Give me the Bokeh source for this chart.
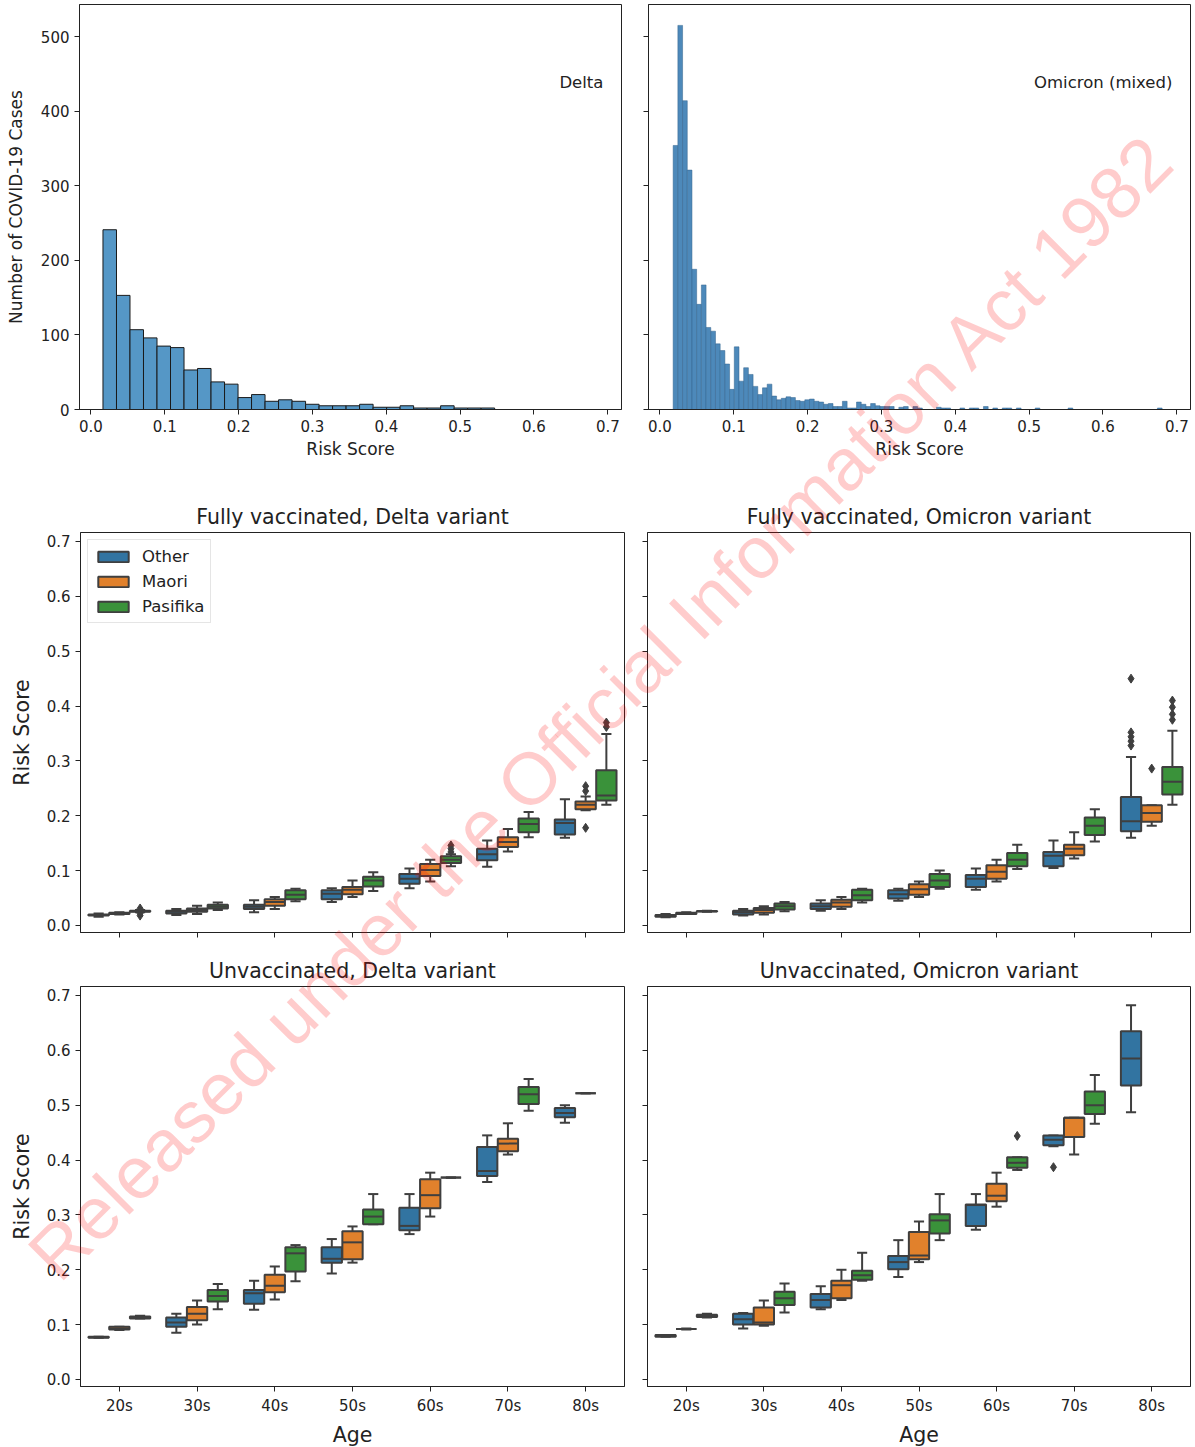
import math
from bokeh.plotting import figure
from bokeh.layouts import column, row
from bokeh.models import (Range1d, FixedTicker, CustomJSTickFormatter, NumeralTickFormatter,
                          Legend, LegendItem, ColumnDataSource, Label)
from bokeh.embed import file_html
from bokeh.resources import INLINE
from bokeh.core.properties import value

FONT = "DejaVu Sans"
INK = "#222222"
GRAY = "#3f3f3f"

# ---------------- data ----------------
AGES = ["20s", "30s", "40s", "50s", "60s", "70s", "80s"]
GROUPS = ["Other", "Maori", "Pasifika"]
GROUP_COLORS = ["#3274a1", "#e1812c", "#3a923a"]

# histogram of risk scores (bin start, bin width, counts)
DELTA_BIN_START = 0.0163
DELTA_BIN_WIDTH = 0.01829
DELTA_COUNTS = [241, 153, 107, 96, 85, 83, 53, 55, 37, 34, 16, 20, 11, 13, 11, 7, 5, 5, 5, 7,
                3, 3, 5, 2, 2, 5, 2, 2, 2]

OMICRON_BIN_START = 0.0179
OMICRON_BIN_WIDTH = 0.006367
OMICRON_COUNTS = [354, 515, 414, 321, 188, 141, 167, 110, 105, 88, 79, 61, 27, 84, 38, 56, 47, 31, 20, 29,
                  34, 18, 13, 15, 17, 16, 12, 11, 13, 14, 11, 10, 7, 8, 4, 4, 11, 2, 2, 10,
                  7, 4, 8, 5, 4, 4, 4, 0, 3, 4, 0, 4, 2, 0, 0, 0, 3, 2, 2, 0,
                  0, 2, 0, 2, 2, 0, 4, 0, 2, 0, 2, 2, 0, 2, 0, 0, 0, 2, 0, 0,
                  0, 0, 0, 0, 2, 0, 0, 0, 0, 0, 0, 0, 0, 0, 0, 0, 0, 0, 0, 0,
                  0, 0, 0, 2]

# box statistics per age group: (lower whisker, Q1, median, Q3, upper whisker)
FV_DELTA_OTHER = [(0.016, 0.018, 0.019, 0.020, 0.022), (0.019, 0.022, 0.025, 0.027, 0.030),
                  (0.024, 0.030, 0.034, 0.038, 0.046), (0.043, 0.048, 0.058, 0.064, 0.068),
                  (0.068, 0.076, 0.085, 0.094, 0.104), (0.107, 0.119, 0.130, 0.140, 0.155),
                  (0.160, 0.166, 0.187, 0.193, 0.230)]
FV_DELTA_MAORI = [(0.020, 0.021, 0.022, 0.023, 0.024), (0.021, 0.025, 0.028, 0.031, 0.036),
                  (0.030, 0.036, 0.043, 0.048, 0.052), (0.052, 0.057, 0.065, 0.070, 0.082),
                  (0.080, 0.090, 0.101, 0.112, 0.120), (0.135, 0.143, 0.152, 0.161, 0.176),
                  (0.210, 0.212, 0.220, 0.226, 0.235)]
FV_DELTA_PASIFIKA = [(0.024, 0.025, 0.026, 0.027, 0.028), (0.028, 0.031, 0.034, 0.038, 0.042),
                     (0.044, 0.048, 0.056, 0.064, 0.067), (0.063, 0.071, 0.082, 0.089, 0.097),
                     (0.108, 0.114, 0.120, 0.126, 0.130), (0.161, 0.170, 0.185, 0.195, 0.207),
                     (0.220, 0.228, 0.237, 0.283, 0.349)]
FV_DELTA_OUTLIERS = [("20s", "Pasifika", 0.018), ("20s", "Pasifika", 0.022), ("20s", "Pasifika", 0.031),
                     ("60s", "Pasifika", 0.134), ("60s", "Pasifika", 0.140), ("60s", "Pasifika", 0.146),
                     ("80s", "Maori", 0.178), ("80s", "Maori", 0.245), ("80s", "Maori", 0.254),
                     ("80s", "Pasifika", 0.362), ("80s", "Pasifika", 0.370)]

FV_OMICRON_OTHER = [(0.015, 0.016, 0.018, 0.019, 0.021), (0.018, 0.020, 0.024, 0.027, 0.030),
                    (0.027, 0.030, 0.035, 0.040, 0.046), (0.045, 0.049, 0.057, 0.064, 0.067),
                    (0.065, 0.070, 0.085, 0.092, 0.104), (0.105, 0.108, 0.127, 0.134, 0.155),
                    (0.160, 0.172, 0.190, 0.234, 0.307)]
FV_OMICRON_MAORI = [(0.021, 0.021, 0.022, 0.023, 0.024), (0.020, 0.023, 0.028, 0.032, 0.035),
                    (0.030, 0.034, 0.042, 0.047, 0.052), (0.052, 0.056, 0.066, 0.075, 0.080),
                    (0.080, 0.085, 0.098, 0.110, 0.120), (0.122, 0.128, 0.140, 0.147, 0.170),
                    (0.182, 0.189, 0.205, 0.219, 0.219)]
FV_OMICRON_PASIFIKA = [(0.025, 0.0255, 0.026, 0.0265, 0.027), (0.026, 0.029, 0.035, 0.040, 0.043),
                       (0.042, 0.046, 0.055, 0.065, 0.067), (0.067, 0.070, 0.082, 0.094, 0.100),
                       (0.103, 0.108, 0.120, 0.132, 0.147), (0.153, 0.165, 0.182, 0.197, 0.212),
                       (0.220, 0.239, 0.262, 0.289, 0.355)]
FV_OMICRON_OUTLIERS = [("80s", "Other", 0.328), ("80s", "Other", 0.336), ("80s", "Other", 0.344),
                       ("80s", "Other", 0.352), ("80s", "Other", 0.450), ("80s", "Maori", 0.286),
                       ("80s", "Pasifika", 0.375), ("80s", "Pasifika", 0.385), ("80s", "Pasifika", 0.398),
                       ("80s", "Pasifika", 0.410)]

UV_DELTA_OTHER = [(0.076, 0.076, 0.077, 0.078, 0.078), (0.085, 0.096, 0.104, 0.113, 0.120),
                  (0.127, 0.138, 0.157, 0.163, 0.180), (0.193, 0.213, 0.220, 0.241, 0.256),
                  (0.265, 0.272, 0.280, 0.313, 0.338), (0.360, 0.371, 0.380, 0.424, 0.445),
                  (0.468, 0.478, 0.486, 0.495, 0.500)]
UV_DELTA_MAORI = [(0.090, 0.091, 0.093, 0.096, 0.096), (0.100, 0.108, 0.120, 0.132, 0.144),
                  (0.146, 0.159, 0.171, 0.191, 0.206), (0.213, 0.219, 0.250, 0.270, 0.279),
                  (0.297, 0.312, 0.336, 0.365, 0.377), (0.410, 0.416, 0.430, 0.439, 0.467),
                  (0.522, 0.522, 0.522, 0.522, 0.522)]
UV_DELTA_PASIFIKA = [(0.111, 0.111, 0.113, 0.115, 0.116), (0.128, 0.142, 0.152, 0.163, 0.174),
                     (0.179, 0.197, 0.230, 0.241, 0.245), (0.283, 0.283, 0.297, 0.310, 0.338),
                     (0.368, 0.368, 0.368, 0.368, 0.368), (0.490, 0.502, 0.520, 0.533, 0.548),
                     None]
UV_DELTA_OUTLIERS = []

UV_OMICRON_OTHER = [(0.078, 0.078, 0.080, 0.081, 0.081), (0.093, 0.100, 0.110, 0.120, 0.121),
                    (0.128, 0.131, 0.145, 0.156, 0.170), (0.187, 0.201, 0.214, 0.225, 0.254),
                    (0.273, 0.280, 0.318, 0.319, 0.338), (0.425, 0.427, 0.437, 0.445, 0.445),
                    (0.487, 0.536, 0.585, 0.635, 0.682)]
UV_OMICRON_MAORI = [(0.091, 0.092, 0.092, 0.092, 0.093), (0.098, 0.100, 0.104, 0.131, 0.144),
                    (0.145, 0.148, 0.172, 0.180, 0.200), (0.214, 0.219, 0.226, 0.269, 0.288),
                    (0.315, 0.325, 0.335, 0.357, 0.377), (0.410, 0.442, 0.477, 0.477, 0.477),
                    None]
UV_OMICRON_PASIFIKA = [(0.113, 0.114, 0.116, 0.118, 0.120), (0.122, 0.136, 0.148, 0.160, 0.175),
                       (0.180, 0.182, 0.190, 0.198, 0.231), (0.254, 0.266, 0.290, 0.301, 0.338),
                       (0.382, 0.386, 0.395, 0.405, 0.405), (0.466, 0.484, 0.500, 0.525, 0.555),
                       None]
UV_OMICRON_OUTLIERS = [("60s", "Pasifika", 0.444), ("70s", "Other", 0.387)]

X_TICKS_HIST = [0.0, 0.1, 0.2, 0.3, 0.4, 0.5, 0.6, 0.7]
Y_TICKS_HIST = [0, 100, 200, 300, 400, 500]
Y_TICKS_BOX = [0.0, 0.1, 0.2, 0.3, 0.4, 0.5, 0.6, 0.7]
WATERMARK = "Released under the Official Information Act 1982"

# ---------------- styling helpers ----------------
HUE_OFFSETS = [-0.8 / 3, 0.0, 0.8 / 3]
BOX_W = 0.8 / 3 * 0.98
CAP_W = BOX_W / 2
LW = 2
HIDE = CustomJSTickFormatter(code="return ''")


def style_axes(p, tick_size="15px", label_size="17px"):
    p.grid.visible = False
    p.outline_line_color = INK
    p.outline_line_width = 1
    for ax in p.axis:
        ax.major_tick_out = 5
        ax.major_tick_in = 0
        ax.minor_tick_line_color = None
        ax.axis_line_color = INK
        ax.major_tick_line_color = INK
        ax.major_label_text_font = FONT
        ax.major_label_text_font_size = tick_size
        ax.major_label_text_color = INK
        ax.major_label_standoff = 5
        ax.axis_label_text_font = FONT
        ax.axis_label_text_font_size = label_size
        ax.axis_label_text_font_style = "normal"
        ax.axis_label_text_color = INK
        ax.axis_label_standoff = 6


def hist_fig(bl, br, fw, start, width, counts, fill, line, lw, show_ylabels, note):
    p = figure(frame_width=fw, frame_height=405, min_border_left=bl, min_border_right=br,
               min_border_top=4, min_border_bottom=58,
               x_range=Range1d(-0.0155, 0.7185), y_range=Range1d(0, 543),
               toolbar_location=None, output_backend="svg")
    left = [start + k * width for k, c in enumerate(counts) if c > 0]
    right = [start + (k + 1) * width for k, c in enumerate(counts) if c > 0]
    top = [c for c in counts if c > 0]
    p.quad(left=left, right=right, bottom=0, top=top, fill_color=fill, line_color=line, line_width=lw)
    style_axes(p)
    p.xaxis.ticker = FixedTicker(ticks=X_TICKS_HIST)
    p.xaxis.formatter = NumeralTickFormatter(format="0.0")
    p.xaxis.axis_label = "Risk Score"
    p.xaxis.axis_label_standoff = 4
    p.yaxis.ticker = FixedTicker(ticks=Y_TICKS_HIST)
    if show_ylabels:
        p.yaxis.axis_label = "Number of COVID-19 Cases"
        p.yaxis.axis_label_standoff = 12
    else:
        p.yaxis.formatter = HIDE
        p.yaxis.major_label_standoff = 0
    p.add_layout(Label(x=0.694, y=438, text=note, text_align="right", text_baseline="middle",
                       text_font=FONT, text_font_size="16.5px", text_color=INK))
    return p


def box_fig(bl, br, fw, bt, bb, title, show_x, show_y, stats, outliers, legend=False):
    p = figure(frame_width=fw, frame_height=400, min_border_left=bl, min_border_right=br,
               min_border_top=bt, min_border_bottom=bb,
               x_range=Range1d(-0.5, 6.5), y_range=Range1d(-0.0128, 0.7164),
               toolbar_location=None, output_backend="svg", title=title)
    p.title.align = "center"
    p.title.text_font = FONT
    p.title.text_font_size = "20.5px"
    p.title.text_font_style = "normal"
    p.title.text_color = INK
    p.title.standoff = 7
    renderers = []
    for gi, (gstats, color) in enumerate(zip(stats, GROUP_COLORS)):
        d = dict(x=[], lo=[], q1=[], md=[], q3=[], hi=[], xl=[], xr=[], cl=[], cr=[])
        for ai, s in enumerate(gstats):
            if s is None:
                continue
            x = ai + HUE_OFFSETS[gi]
            d["x"].append(x)
            for key, v in zip(["lo", "q1", "md", "q3", "hi"], s):
                d[key].append(v)
            d["xl"].append(x - BOX_W / 2)
            d["xr"].append(x + BOX_W / 2)
            d["cl"].append(x - CAP_W / 2)
            d["cr"].append(x + CAP_W / 2)
        src = ColumnDataSource(d)
        p.segment("x", "q3", "x", "hi", source=src, line_color=GRAY, line_width=LW)
        p.segment("x", "lo", "x", "q1", source=src, line_color=GRAY, line_width=LW)
        p.segment("cl", "hi", "cr", "hi", source=src, line_color=GRAY, line_width=LW)
        p.segment("cl", "lo", "cr", "lo", source=src, line_color=GRAY, line_width=LW)
        r = p.vbar(x="x", width=BOX_W, bottom="q1", top="q3", source=src,
                   fill_color=color, line_color=GRAY, line_width=LW)
        p.segment("xl", "md", "xr", "md", source=src, line_color=GRAY, line_width=LW)
        renderers.append(r)
    if outliers:
        ox = [AGES.index(a) + HUE_OFFSETS[GROUPS.index(g)] for a, g, v in outliers]
        oy = [v for a, g, v in outliers]
        p.scatter(ox, oy, marker="diamond", size=9, fill_color=GRAY, line_color=GRAY)
    style_axes(p, tick_size="15px", label_size="20.5px")
    p.xaxis.ticker = FixedTicker(ticks=list(range(len(AGES))))
    if show_x:
        p.xaxis.major_label_overrides = {i: a for i, a in enumerate(AGES)}
        p.xaxis.axis_label = "Age"
        p.xaxis.axis_label_standoff = 5
    else:
        p.xaxis.formatter = HIDE
        p.xaxis.major_label_standoff = 0
    p.yaxis.ticker = FixedTicker(ticks=Y_TICKS_BOX)
    if show_y:
        p.yaxis.formatter = NumeralTickFormatter(format="0.0")
        p.yaxis.axis_label = "Risk Score"
        p.yaxis.axis_label_standoff = 10
    else:
        p.yaxis.formatter = HIDE
        p.yaxis.major_label_standoff = 0
    if legend:
        lg = Legend(items=[LegendItem(label=g, renderers=[r]) for g, r in zip(GROUPS, renderers)],
                    location="top_left")
        lg.glyph_width = 38
        lg.glyph_height = 13
        lg.label_height = 20
        lg.spacing = 5
        lg.padding = 6
        lg.margin = 7
        lg.label_standoff = 10
        lg.label_text_font = FONT
        lg.label_text_font_size = "16.5px"
        lg.label_text_color = INK
        lg.border_line_color = "#cccccc"
        lg.border_line_width = 1
        lg.background_fill_alpha = 0.8
        p.add_layout(lg)
    return p


h1 = hist_fig(79, 5, 542, DELTA_BIN_START, DELTA_BIN_WIDTH, DELTA_COUNTS,
              "#5597c6", "#1a1a1a", 1, True, "Delta")
h2 = hist_fig(22, 1, 542, OMICRON_BIN_START, OMICRON_BIN_WIDTH, OMICRON_COUNTS,
              "#4d89ba", "#33638c", 0.5, False, "Omicron (mixed)")

b1 = box_fig(80, 4, 544, 65, 14, "Fully vaccinated, Delta variant", False, True,
             [FV_DELTA_OTHER, FV_DELTA_MAORI, FV_DELTA_PASIFIKA], FV_DELTA_OUTLIERS, legend=True)
b2 = box_fig(19, 1, 543, 65, 14, "Fully vaccinated, Omicron variant", False, False,
             [FV_OMICRON_OTHER, FV_OMICRON_MAORI, FV_OMICRON_PASIFIKA], FV_OMICRON_OUTLIERS)
b3 = box_fig(80, 4, 544, 40, 58, "Unvaccinated, Delta variant", True, True,
             [UV_DELTA_OTHER, UV_DELTA_MAORI, UV_DELTA_PASIFIKA], UV_DELTA_OUTLIERS)
b4 = box_fig(19, 1, 543, 40, 58, "Unvaccinated, Omicron variant", True, False,
             [UV_OMICRON_OTHER, UV_OMICRON_MAORI, UV_OMICRON_PASIFIKA], UV_OMICRON_OUTLIERS)

# watermark overlay (transparent figure on top of the grid)
WM_W, WM_H = 1191, 1444
wm = figure(width=WM_W, height=WM_H, x_range=Range1d(0, WM_W), y_range=Range1d(0, WM_H),
            toolbar_location=None, output_backend="svg", min_border=0,
            outline_line_color=None, background_fill_alpha=0, border_fill_alpha=0,
            styles={"position": "absolute", "left": "0px", "top": "0px", "pointer-events": "none"})
wm.axis.visible = False
wm.grid.visible = False
wm.text(x=[601], y=[WM_H - 706], text=[WATERMARK], angle=math.pi / 4,
        text_align="center", text_baseline="middle",
        text_font=value("Liberation Sans"), text_font_size="73.5px",
        text_color="red", text_alpha=0.2)

layout = column(row(h1, h2), row(b1, b2), row(b3, b4), wm)

open("out.html", "w").write(file_html(layout, INLINE))
